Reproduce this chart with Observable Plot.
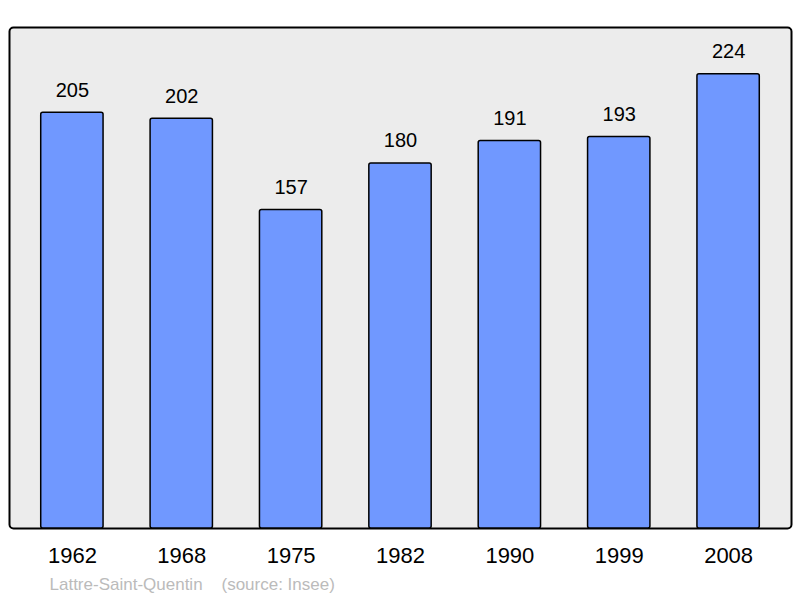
<!DOCTYPE html>
<html><head><meta charset="utf-8">
<script src="https://cdn.jsdelivr.net/npm/d3@7"></script>
<script src="https://cdn.jsdelivr.net/npm/@observablehq/plot@0.6"></script>
<style>body{margin:0;background:#fff;} svg{display:block;}</style>
</head><body><div id="chart"></div>
<script>
const years = ["1962","1968","1975","1982","1990","1999","2008"];
const population = [205, 202, 157, 180, 191, 193, 224];
const caption = "Lattre-Saint-Quentin    (source: Insee)";

const data = years.map((y, i) => ({year: y, value: population[i]}));

const chart = Plot.plot({
  width: 800, height: 598,
  marginTop: 27, marginBottom: 70, marginLeft: 9, marginRight: 9,
  style: {fontFamily: "'Liberation Sans', Arial, sans-serif", background: "#fff"},
  x: {domain: years, paddingInner: 0.43, paddingOuter: 0.29, round: false, label: null},
  y: {domain: [0, 247], axis: null},
  marks: [
    Plot.frame({fill: "#ececec", stroke: "#000", strokeWidth: 2, rx: 4}),
    Plot.barY(data, {x: "year", y: "value", fill: "#7098ff", stroke: "#000", strokeWidth: 1.5, rx: 2}),
    Plot.text(data, {x: "year", y: "value", text: d => String(d.value), lineAnchor: "bottom", dy: -16, fontSize: 20, fill: "#000"}),
    Plot.axisX({tickSize: 0, tickPadding: 19, fontSize: 22, label: null, color: "#000"}),
    Plot.text([caption], {frameAnchor: "bottom-left", textAnchor: "start", lineAnchor: "middle", dx: 40, dy: 56, fontSize: 17, fill: "#bbbbbb"})
  ]
});
chart.querySelectorAll("text").forEach(t => t.setAttribute("xml:space", "preserve"));
chart.style.whiteSpace = "pre";
document.getElementById("chart").append(chart);
</script></body></html>
